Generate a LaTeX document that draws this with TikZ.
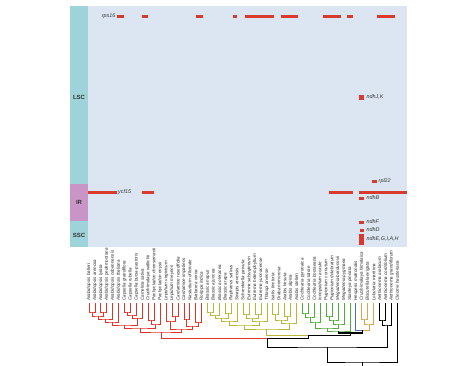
\documentclass[tikz,border=0pt]{standalone}
\usepackage{fontspec}
\setmainfont{Liberation Sans}
\usetikzlibrary{calc}
\definecolor{bgblue}{HTML}{DCE6F2}
\definecolor{stripc}{HTML}{9ED3D9}
\definecolor{irpink}{HTML}{C995C7}
\definecolor{gred}{HTML}{D93A30}
\definecolor{cred}{HTML}{E0342A}
\definecolor{colive}{HTML}{B9B636}
\definecolor{cgreen}{HTML}{4FAE3A}
\definecolor{cblue}{HTML}{4C6FC4}
\definecolor{ctan}{HTML}{D6A84E}
\definecolor{txt}{HTML}{333333}
\newcommand{\jn}[4]{\path let \p1=(#2), \p2=(#3) in coordinate (#1) at ({(\x1+\x2)/2},#4);}
\newcommand{\cl}[5]{\jn{#1}{#2}{#3}{#4}\draw[tree,#5] (#2) |- (#1) -| (#3);}
\begin{document}
\begin{tikzpicture}[x=1pt,y=-1pt,
  tree/.style={line width=0.75pt},
  genelab/.style={font=\fontsize{5.4}{6}\selectfont\itshape, text=txt, inner sep=0.5pt, anchor=west},
  reglab/.style={font=\fontsize{6}{7}\selectfont\bfseries, text=txt, inner sep=0pt},
  tiplab/.style={rotate=90, anchor=west, font=\fontsize{4.5}{5}\selectfont\itshape, text=black!85, inner sep=0.6pt},
  bar/.style={fill=gred}]
\useasboundingbox (0,0) rectangle (474,365);
% panel
\fill[bgblue] (70,6) rectangle (407,247);
\fill[stripc] (70,6) rectangle (88,184);
\fill[irpink] (70,184) rectangle (88,221);
\fill[stripc] (70,221) rectangle (88,247);
\node[reglab] (lsc) at (79,97) {LSC};
\node[reglab] (ir) at (79,202) {IR};
\node[reglab] (ssc) at (79,235) {SSC};
% rps16 row
\foreach \a/\b in {117/124,142/148,196/203,233/237,245/274,281/298,323/341,347/353,377/395}
  \fill[bar] (\a,14.5) rectangle (\b,17.5);
\node[genelab, anchor=east] (rps) at (116,16) {rps16};
% IR row
\foreach \a/\b in {88/117,142/154,329/353,359/407}
  \fill[bar] (\a,190.5) rectangle (\b,193.5);
\node[genelab] (ycf) at (117.5,192) {ycf15};
% ndh etc
\fill[bar] (359,95) rectangle (364,99.5);
\node[genelab] (ndhjk) at (366,97) {ndhJ,K};
\fill[bar] (372,179.8) rectangle (377,182.5);
\node[genelab] (rpl) at (378,181) {rpl22};
\fill[bar] (359,196.8) rectangle (364,199.5);
\node[genelab] (ndhb) at (366,198) {ndhB};
\fill[bar] (359,220.8) rectangle (364,223.5);
\node[genelab] (ndhf) at (366,222) {ndhF};
\fill[bar] (360,228.8) rectangle (364,231.5);
\node[genelab] (ndhd) at (366,230) {ndhD};
\fill[bar] (359,234) rectangle (364,244.5);
\node[genelab] (ndhe) at (366,239) {ndhE,G,I,A,H};
% tips
\foreach \i in {0,...,52} { \coordinate (t\i) at ({89+5.93*\i},303); \coordinate (u\i) at ({89+5.93*\i},301.5); }
\foreach \n [count=\i from 0] in {Arabidopsis halleri,Arabidopsis arenosa,Arabidopsis lyrata,Arabidopsis pedemontana,Arabidopsis cebennensis,Arabidopsis thaliana,Capsella grandiflora,Capsella rubella,Capsella bursa-pastoris,Camelina sativa,Crucihimalaya wallichii,Pachycladon cheesemanii,Pachycladon enysii,Lepidium virginicum,Lepidium meyenii,Cardamine resedifolia,Cardamine impatiens,Nasturtium officinale,Barbarea verna,Rorippa indica,Brassica napus,Brassica juncea,Brassica oleracea,Brassica rapa,Raphanus sativus,Sinapis arvensis,Schrenkiella parvula,Eutrema salsugineum,Eutrema heterophyllum,Eutrema yunnanense,Thlaspi arvense,Isatis tinctoria,Draba nemorosa,Arabis hirsuta,Arabis alpina,Arabis stelleri,Cochlearia pyrenaica,Cochlearia tatrae,Cochlearia borzaeana,Ionopsidium acaule,Pugionium cornutum,Pugionium dolabratum,Megadenia bardunovii,Megadenia pygmaea,Stanleya pinnata,Hesperis matronalis,Crucihimalaya himalaica,Biscutella laevigata,Lobularia maritima,Aethionema arabicum,Aethionema cordifolium,Aethionema grandiflorum,Cleome hassleriana}
  { \node[tiplab] (s\i) at (u\i) {\n}; }
% red clade
\cl{a1}{t0}{t1}{312}{cred}
\cl{a2}{t2}{t3}{312}{cred}
\cl{a3}{a1}{a2}{316}{cred}
\cl{a4}{a3}{t4}{319}{cred}
\cl{a5}{a4}{t5}{322}{cred}
\cl{c1}{t6}{t7}{312}{cred}
\cl{c2}{c1}{t8}{315}{cred}
\cl{c3}{c2}{t9}{318}{cred}
\cl{r1}{a5}{c3}{325}{cred}
\cl{p1}{t10}{t11}{320}{cred}
\cl{p2}{p1}{t12}{324}{cred}
\cl{r2}{r1}{p2}{328}{cred}
\cl{l1}{t14}{t15}{316}{cred}
\cl{l2}{t13}{l1}{321}{cred}
\cl{d1}{t16}{t17}{319}{cred}
\cl{d2}{t18}{t19}{322}{cred}
\cl{d3}{d1}{d2}{326}{cred}
\cl{r3}{l2}{d3}{329}{cred}
\cl{R}{r2}{r3}{332}{cred}
% olive clade
\cl{o1}{t20}{t21}{312}{colive}
\cl{o2}{o1}{t22}{315}{colive}
\cl{o3}{t23}{t24}{313}{colive}
\cl{o4}{o2}{o3}{318}{colive}
\cl{o5}{o4}{t25}{321}{colive}
\cl{o6}{t26}{t27}{314}{colive}
\cl{o7}{t28}{t29}{314}{colive}
\cl{o8}{o6}{o7}{318}{colive}
\cl{o9}{o8}{t30}{321}{colive}
\cl{o10}{o5}{o9}{325}{colive}
\cl{o11}{t31}{t32}{314}{colive}
\cl{o12}{t33}{t34}{316}{colive}
\cl{o13}{o11}{o12}{320}{colive}
\cl{o14}{o13}{t35}{323}{colive}
\cl{O}{o10}{o14}{329}{colive}
% green clade
\cl{g1}{t36}{t37}{313}{cgreen}
\cl{g2}{g1}{t38}{317}{cgreen}
\cl{g3}{g2}{t39}{322}{cgreen}
\cl{g4}{t40}{t41}{316}{cgreen}
\cl{g5}{g4}{t42}{320}{cgreen}
\cl{g6}{g5}{t43}{324}{cgreen}
\cl{g7}{g3}{g6}{328}{cgreen}
\cl{G}{g7}{t44}{331}{cgreen}
% blue + tan
\cl{n1}{t46}{t47}{319}{ctan}
\cl{T}{n1}{t48}{324}{ctan}
\jn{BT}{t45}{T}{330}
\draw[tree,cblue] (t45) |- (BT);
\draw[tree,ctan] (T) |- (BT);
\jn{GBT}{G}{BT}{333}
\draw[tree,black,line width=1.6pt] (G) |- (GBT) -| (BT);
\jn{N2}{O}{GBT}{335}
\draw[tree,colive] (O) |- (N2);
\draw[tree,black] (GBT) |- (N2);
% backbone
\coordinate (core) at (267,338);
\draw[tree,cred] (R) |- (core);
\draw[tree,black] (N2) |- (core);
\cl{e1}{t49}{t50}{320}{black}
\cl{E}{e1}{t51}{325}{black}
\cl{B1}{core}{E}{347}{black}
\cl{root}{B1}{t52}{362}{black}
\coordinate (rootend) at ($(root)+(0,5)$);
\draw[tree,black] (root) -- (rootend);
\end{tikzpicture}
\end{document}
